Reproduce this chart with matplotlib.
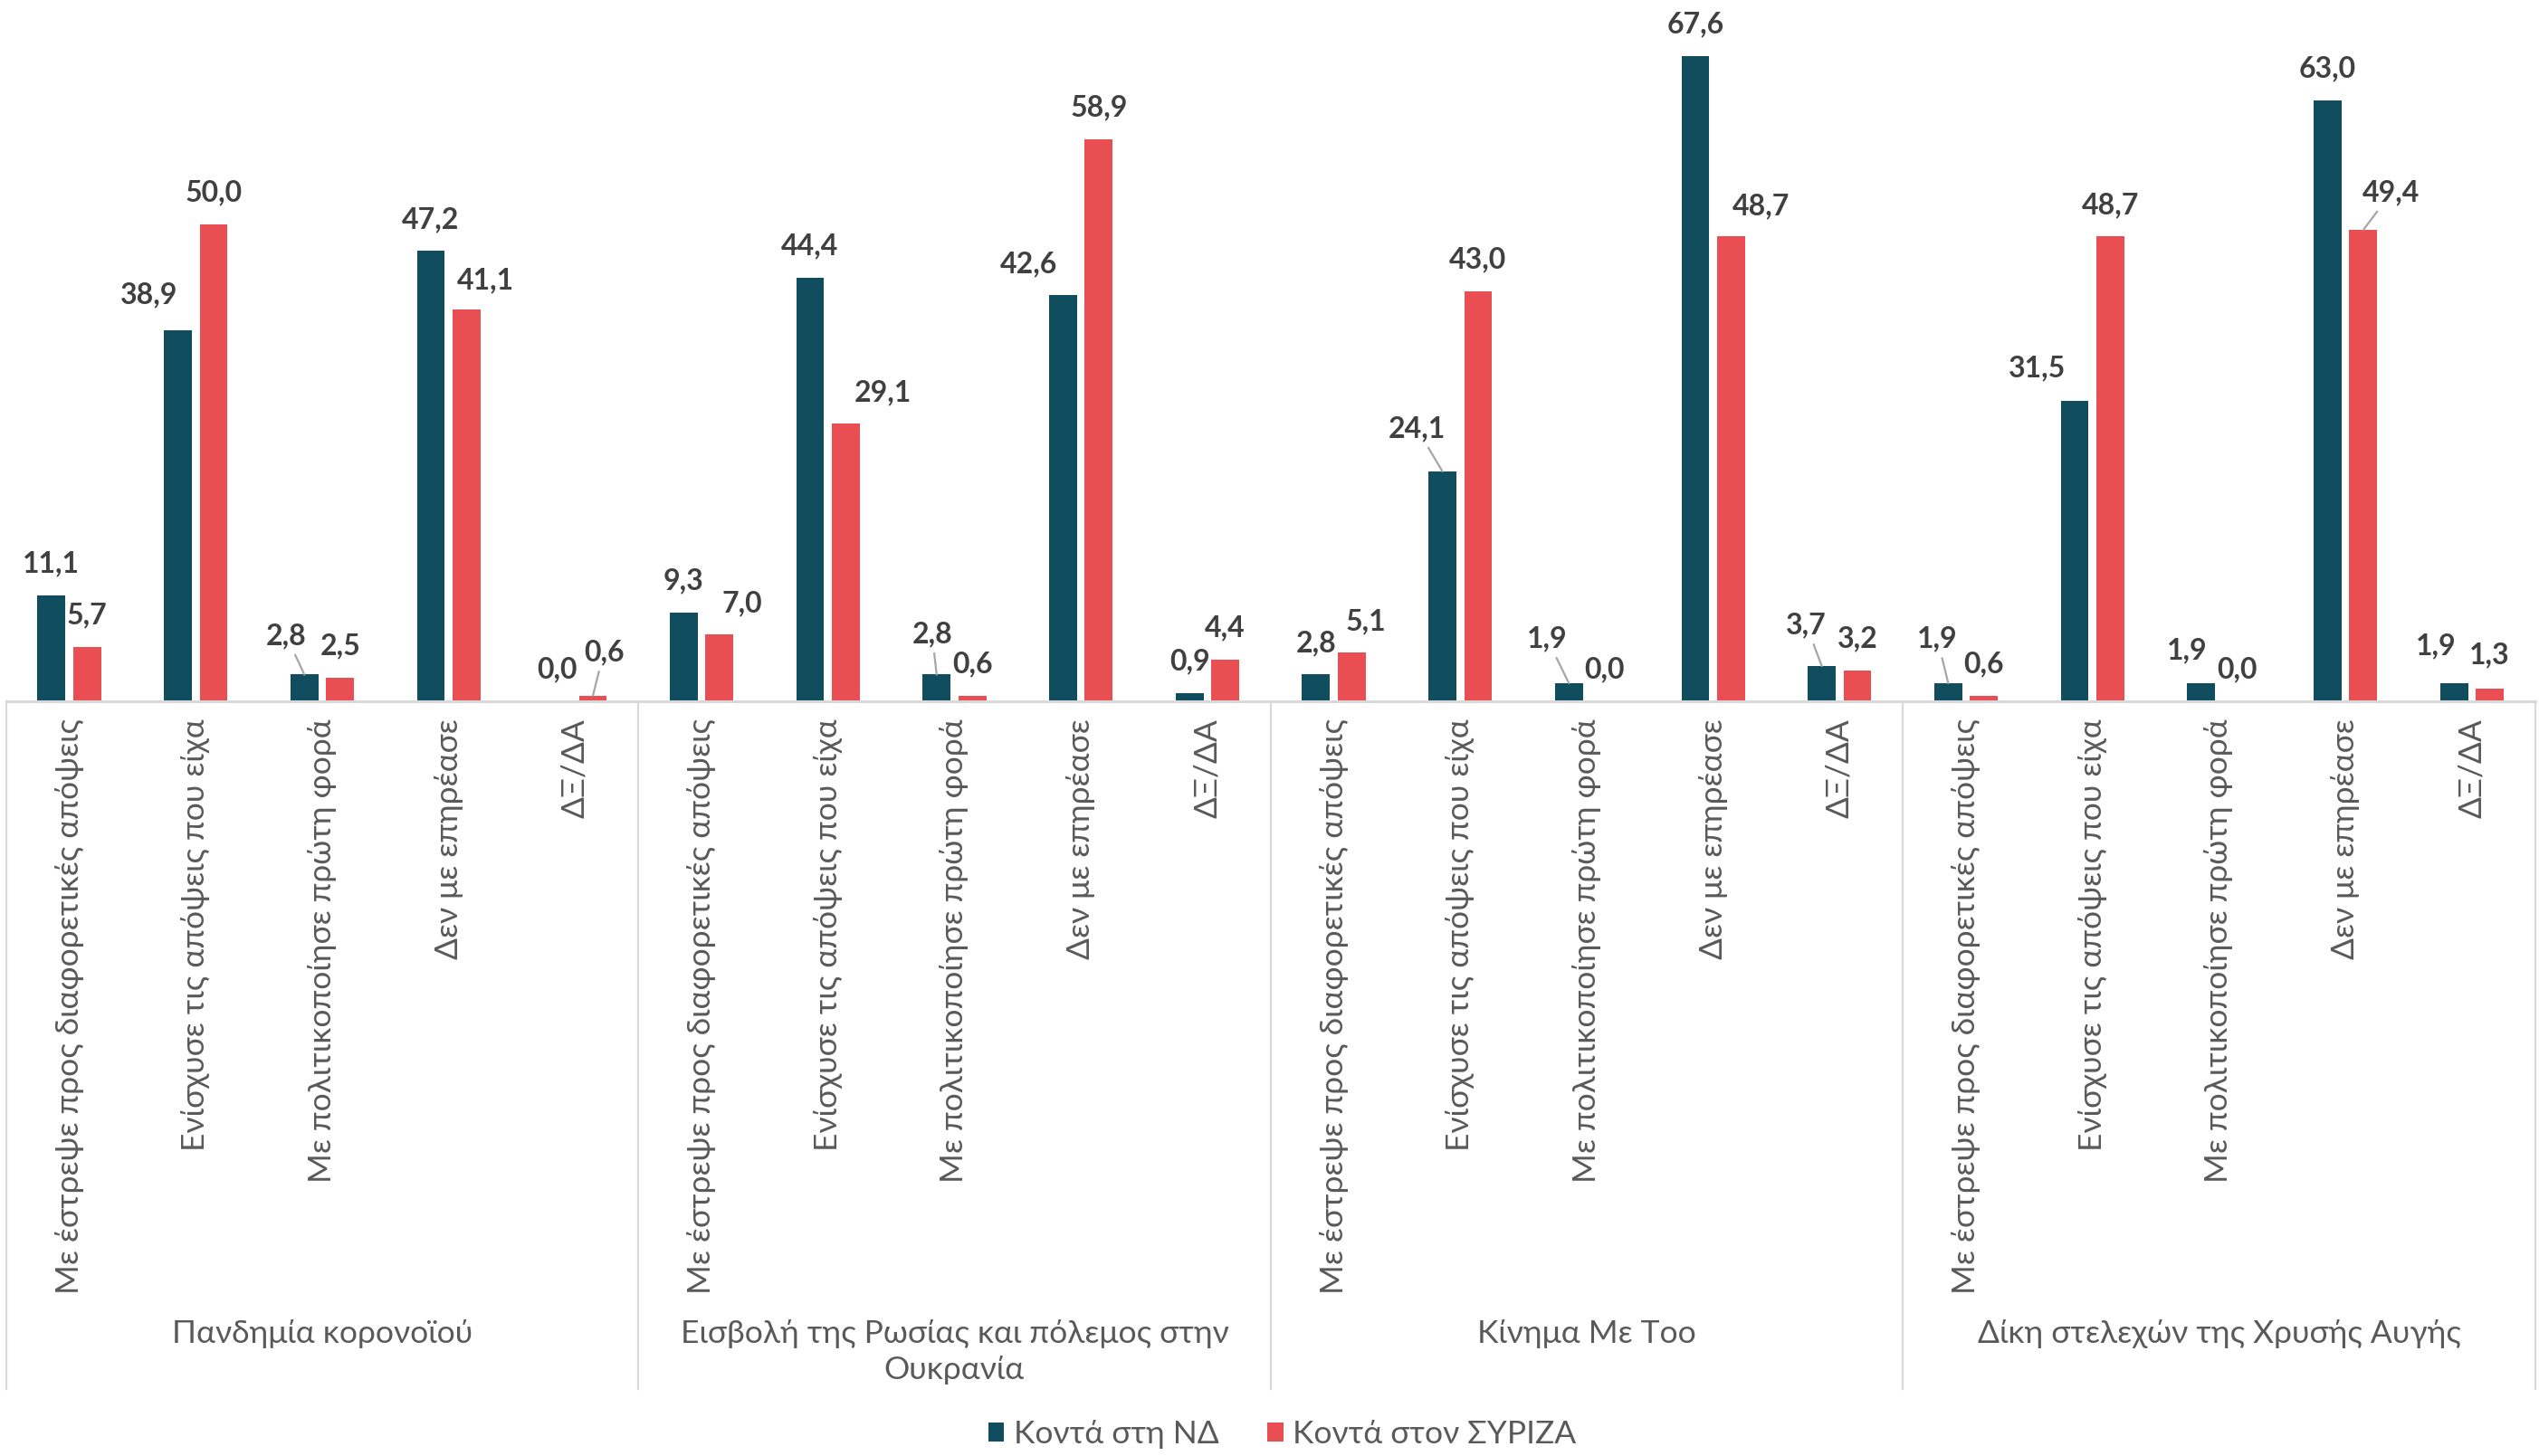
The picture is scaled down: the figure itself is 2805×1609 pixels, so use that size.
import numpy as np
import matplotlib
matplotlib.use("Agg")
import matplotlib.pyplot as plt

# Data
groups = ["Πανδημία κορονοϊού",
          "Εισβολή της Ρωσίας και πόλεμος στην\nΟυκρανία",
          "Κίνημα Με Too",
          "Δίκη στελεχών της Χρυσής Αυγής"]
answers = ["Με έστρεψε προς διαφορετικές απόψεις",
           "Ενίσχυσε τις απόψεις που είχα",
           "Με πολιτικοποίησε πρώτη φορά",
           "Δεν με επηρέασε",
           "ΔΞ/ΔΑ"]
series_names = ["Κοντά στη ΝΔ", "Κοντά στον ΣΥΡΙΖΑ"]
nd = [11.1, 38.9, 2.8, 47.2, 0.0,
      9.3, 44.4, 2.8, 42.6, 0.9,
      2.8, 24.1, 1.9, 67.6, 3.7,
      1.9, 31.5, 1.9, 63.0, 1.9]
syriza = [5.7, 50.0, 2.5, 41.1, 0.6,
          7.0, 29.1, 0.6, 58.9, 4.4,
          5.1, 43.0, 0.0, 48.7, 3.2,
          0.6, 48.7, 0.0, 49.4, 1.3]

# label nudges (pixels) where the original moved a label off its default spot
nd_shift = {1: (-32, 39), 2: (-20, 43), 7: (-5, 45), 8: (-38, 34), 11: (-28, 47),
            12: (-24, 49), 14: (-17, 45), 15: (-12, 49), 16: (-42, 36),
            17: (-16, 36), 19: (-20, 41)}
sy_shift = {3: (21, 32), 4: (12, 48), 5: (25, 34), 6: (41, 34), 10: (16, 34),
            13: (33, 34), 18: (31, 41), 19: (0, 37)}
nd_leader = [2, 7, 11, 12, 14, 15]
sy_leader = [4, 18]

C_ND = "#104E5F"
C_SY = "#E84E52"
TXT = "#404040"
GRID = "#D9D9D9"
DPI = 100
plt.rcParams['font.family'] = ['Lato', 'DejaVu Sans']

fig = plt.figure(figsize=(28.05, 16.09), dpi=DPI)
ax = fig.add_axes([6.7 / 2805, 1 - 775 / 1609, 2794 / 2805, 775 / 1609])

n = len(nd)
x = np.arange(n)
w = 0.22
off = 0.141
b1 = ax.bar(x - off, nd, w, color=C_ND, label=series_names[0])
b2 = ax.bar(x + off, syriza, w, color=C_SY, label=series_names[1])

ax.set_xlim(-0.5, n - 0.5)
ax.set_ylim(0, 73.5)


def put_labels(xs, vals, shifts, leaders):
    for i, (xx, v) in enumerate(zip(xs, vals)):
        dx, dy = shifts.get(i, (0, 35))
        txt = f"{v:.1f}".replace(".", ",")
        kw = {}
        if i in leaders:
            kw["arrowprops"] = dict(arrowstyle="-", color="#A6A6A6", lw=1.6,
                                    shrinkA=3, shrinkB=0)
        ax.annotate(txt, xy=(xx, v), xytext=(dx * 72 / DPI, dy * 72 / DPI),
                    textcoords="offset points", ha="center", va="center",
                    fontsize=23, fontweight="bold", color=TXT,
                    annotation_clip=False, **kw)


put_labels(x - off, nd, nd_shift, nd_leader)
put_labels(x + off, syriza, sy_shift, sy_leader)

# axes styling
for s in ["top", "right", "left"]:
    ax.spines[s].set_visible(False)
ax.spines["bottom"].set_color(GRID)
ax.spines["bottom"].set_linewidth(2.2)
ax.set_yticks([])
ax.set_xticks(x)
ax.set_xticklabels(answers * len(groups), rotation=90, fontsize=25.5, color="#595959")
ax.tick_params(axis="x", length=0, pad=14)

# multi-level category axis
tr = ax.get_xaxis_transform()
for k in range(len(groups) + 1):
    ax.plot([k * 5 - 0.5] * 2, [0, -0.981], transform=tr, color=GRID, lw=1.6,
            clip_on=False)
for k, g in enumerate(groups):
    ax.text(k * 5 + 2, -0.881, g, transform=tr, ha="center", va="top",
            fontsize=25.5, color="#595959", linespacing=1.32)

fig.legend(handles=[b1, b2], loc="center", bbox_to_anchor=(0.505, 1 - 1585 / 1609),
           ncol=2, frameon=False, fontsize=25.5, handlelength=0.5, handleheight=0.5,
           handletextpad=0.3, columnspacing=1.5, labelcolor="#595959")

fig.savefig("out.png", dpi=DPI)
